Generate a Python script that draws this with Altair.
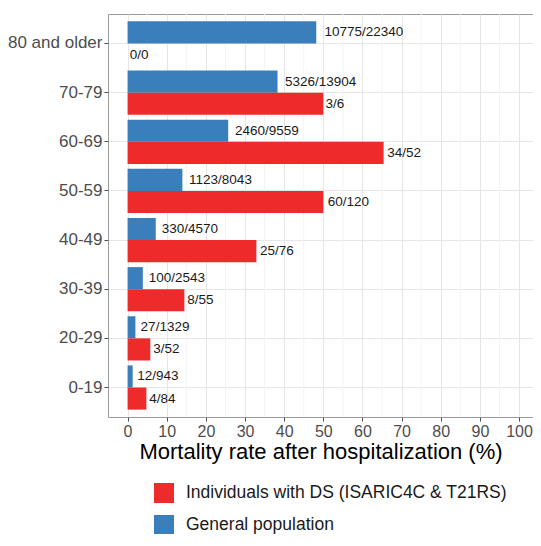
import altair as alt
import pandas as pd

ages = ["80 and older", "70-79", "60-69", "50-59", "40-49", "30-39", "20-29", "0-19"]
gen_rate = [48.2, 38.3, 25.7, 14.0, 7.2, 3.9, 2.0, 1.3]
gen_label = ["10775/22340", "5326/13904", "2460/9559", "1123/8043", "330/4570", "100/2543", "27/1329", "12/943"]
ds_rate = [0.0, 50.0, 65.4, 50.0, 32.9, 14.5, 5.8, 4.8]
ds_label = ["0/0", "3/6", "34/52", "60/120", "25/76", "8/55", "3/52", "4/84"]
x_ticks = [0, 10, 20, 30, 40, 50, 60, 70, 80, 90, 100]
minor_ticks = [5, 15, 25, 35, 45, 55, 65, 75, 85, 95]

GEN = "General population"
DS = "Individuals with DS (ISARIC4C & T21RS)"

rows = []
for a, r, l in zip(ages, gen_rate, gen_label):
    rows.append({"age": a, "group": GEN, "rate": r, "label": l})
for a, r, l in zip(ages, ds_rate, ds_label):
    rows.append({"age": a, "group": DS, "rate": r, "label": l})
df = pd.DataFrame(rows)

FONT = "Liberation Sans"
TITLE = "Mortality rate after hospitalization (%)"

xscale = alt.Scale(domain=[-5, 103.56], nice=False, zero=False)
xaxis = alt.Axis(values=x_ticks, title=TITLE, titleFontSize=22, titleFontWeight="normal",
                 titleColor="black", labelFontSize=16, labelColor="#4d4d4d", tickSize=4,
                 tickColor="#4d4d4d", domain=False, gridColor="#e6e6e6", labelPadding=2,
                 titlePadding=2, labelFlush=False)

y = alt.Y("age:N", sort=ages,
          scale=alt.Scale(paddingInner=0.1, paddingOuter=0.15),
          axis=alt.Axis(title=None, labelFontSize=17, labelColor="#4d4d4d", tickColor="#4d4d4d",
                        tickSize=4, labelPadding=2, domain=False, grid=True, gridColor="#e6e6e6",
                        bandPosition=0.5))
yoff = alt.YOffset("group:N", sort=[GEN, DS], scale=alt.Scale(paddingInner=0, paddingOuter=0))

color = alt.Color("group:N",
                  scale=alt.Scale(domain=[DS, GEN], range=["#ee2a2a", "#3a7fbc"]),
                  legend=alt.Legend(title=None, orient="none", legendX=46, legendY=469,
                                    symbolType="square", symbolSize=400, symbolStrokeWidth=0,
                                    labelFontSize=17.5, labelColor="#1a1a1a", rowPadding=12,
                                    labelOffset=12, padding=0, labelLimit=450))

minor = alt.Chart(pd.DataFrame({"m": minor_ticks})).mark_rule(color="#f3f3f3", strokeWidth=1).encode(
    x=alt.X("m:Q", scale=xscale, axis=xaxis)
)

bars = alt.Chart(df).mark_bar().encode(
    x=alt.X("rate:Q", scale=xscale, axis=xaxis),
    y=y, yOffset=yoff, color=color
)

text = alt.Chart(df).transform_calculate(
    lx="datum.rate + 0.19 * length(datum.label)"
).mark_text(align="left", baseline="middle", fontSize=13.5, color="#1a1a1a", font=FONT).encode(
    x=alt.X("lx:Q", scale=xscale, axis=xaxis),
    y=y, yOffset=yoff, text="label:N"
)

chart = alt.layer(minor, bars, text).properties(
    width=425, height=403,
    autosize=alt.AutoSizeParams(type="none"),
    padding={"left": 100, "top": 6, "right": 0, "bottom": 117}
).configure(font=FONT).configure_view(stroke="#9a9a9a", strokeWidth=1)

chart.save("out.html", embed_options={"renderer": "svg", "actions": False})
